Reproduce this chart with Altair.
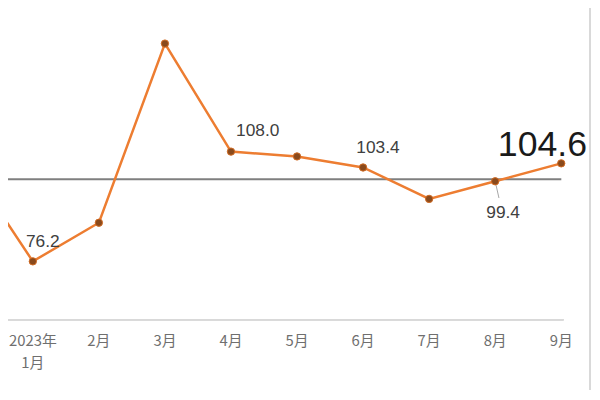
import altair as alt
import pandas as pd

# data
idx = [0, 1, 2, 3, 4, 5, 6, 7, 8, 9]
values = [105.0, 76.2, 87.4, 139.3, 108.0, 106.6, 103.4, 94.3, 99.4, 104.6]
label_row1 = ["", "2023年", "2月", "3月", "4月", "5月", "6月", "7月", "8月", "9月"]
label_row2 = ["", "1月", "", "", "", "", "", "", "", ""]
ref_value = 100

df = pd.DataFrame({"i": idx, "v": values, "l1": label_row1, "l2": label_row2})

lab_df = pd.DataFrame({
    "i": [1, 4, 6, 8, 9],
    "v": [76.2, 108.0, 103.4, 99.4, 104.6],
    "t": ["76.2", "108.0", "103.4", "99.4", "104.6"],
})

W, H = 590, 384
xs = alt.Scale(domain=[0.624, 9.466], nice=False, zero=False)
ys = alt.Scale(domain=[38.92, 149.04], nice=False, zero=False)
X = alt.X("i:Q", scale=xs, axis=None)
Y = alt.Y("v:Q", scale=ys, axis=None)

base = alt.Chart(df)

right_border = alt.Chart(df).mark_rule(color="#d9d9d9", strokeWidth=1.5).encode(
    x=alt.value(588), y=alt.value(-8), y2=alt.value(H))

axis_line = base.mark_rule(color="#d9d9d9", strokeWidth=1.5).encode(
    x=alt.value(0), x2=alt.value(561), y=alt.value(313))

ref_line = alt.Chart(pd.DataFrame({"v": [ref_value]})).mark_rule(
    color="#7f7f7f", strokeWidth=2).encode(
    x=alt.value(0), x2=alt.value(559), y=alt.Y("v:Q", scale=ys, axis=None))

line = base.mark_line(color="#ed7d31", strokeWidth=2.5, clip=True).encode(x=X, y=Y)
pts = alt.Chart(df[df.i > 0]).mark_circle(size=55, color="#8a4a1c", opacity=1,
                                          stroke="#d06a22", strokeWidth=1).encode(x=X, y=Y)

xl1 = alt.Chart(df[df.i > 0]).mark_text(font="Noto Sans CJK SC", fontSize=15,
                                         color="#6f6f6f").encode(
    x=X, y=alt.value(335), text="l1:N")
xl2 = alt.Chart(df[df.i > 0]).mark_text(font="Noto Sans CJK SC", fontSize=15,
                                         color="#6f6f6f").encode(
    x=X, y=alt.value(357), text="l2:N")

def lbl(i, dx, dy, size, color):
    d = lab_df[lab_df.i == i]
    return alt.Chart(d).mark_text(font="Liberation Sans", fontSize=size, color=color,
                                  dx=dx, dy=dy).encode(x=X, y=Y, text="t:N")

labels = [
    lbl(1, 10, -20, 17.5, "#404040"),
    lbl(4, 27, -21, 17.5, "#404040"),
    lbl(6, 15, -20, 17.5, "#404040"),
    lbl(8, 8, 32, 17.5, "#404040"),
    lbl(9, -19, -18, 36, "#1a1a1a"),
]

leader = alt.Chart(lab_df[lab_df.i == 8]).mark_rule(color="#a6a6a6", strokeWidth=1).encode(
    x=X, y=Y, x2=alt.value(496), y2=alt.value(190))

chart = alt.layer(right_border, axis_line, ref_line, leader, line, pts, xl1, xl2, *labels).properties(
    width=W, height=H, padding=0, autosize="none"
).configure_view(stroke=None)

chart.save("out.html", embed_options={"renderer": "svg", "actions": False})
